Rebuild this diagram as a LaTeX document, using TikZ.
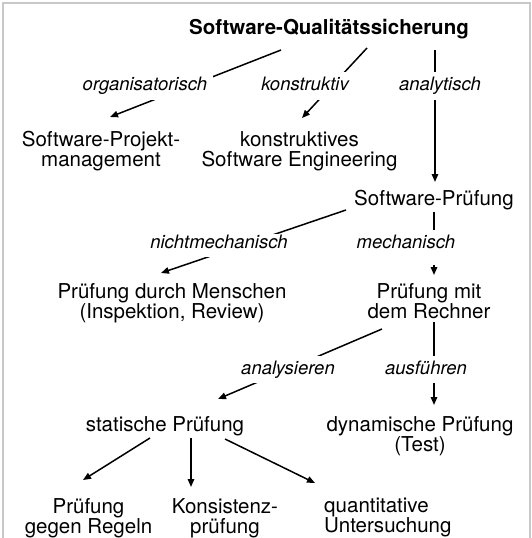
\documentclass[tikz,border=0pt]{standalone}
\usepackage{fontspec}
\setmainfont{TeX Gyre Heros}
\usetikzlibrary{arrows.meta}
\definecolor{FrameGray}{HTML}{C8C8C8}

\begin{document}
\begin{tikzpicture}[x=1pt,y=-1pt,
  every node/.style={inner sep=0pt},
  term/.style={align=center,anchor=north,font=\fontsize{20.5}{20}\selectfont},
  kind/.style={anchor=base,fill=white,inner xsep=6pt,inner ysep=5pt,
    text height=13.5pt,text depth=4pt,font=\fontsize{18.5}{18.5}\selectfont\itshape},
  link/.style={line width=1.5pt,-{Triangle[length=8pt,width=6.5pt]}}]
  \useasboundingbox (0,0) rectangle (532,538);
  \draw[FrameGray,line width=1.5pt] (3,538) -- (3,3) -- (530,3) -- (530,538);

  % Begriffe
  \node[term,font=\fontsize{20.5}{20}\selectfont\bfseries] (qs) at (329,18.7) {Software-Qualitätssicherung};
  \node[term] (spm) at (101,131) {Software-Projekt-\\management};
  \node[term] (kse) at (299.5,131) {konstruktives\\Software Engineering};
  \node[term] (sp) at (434,190) {Software-Prüfung};
  \node[term] (pdm) at (172,283) {Prüfung durch Menschen\\(Inspektion, Review)};
  \node[term] (pmr) at (429,283) {Prüfung mit\\dem Rechner};
  \node[term] (stat) at (165,416) {statische Prüfung};
  \node[term] (dyn) at (420,416.5) {dynamische Prüfung\\(Test)};
  \node[term] (pgr) at (88.5,498) {Prüfung\\gegen Regeln};
  \node[term] (kons) at (225,498) {Konsistenz-\\prüfung};
  \node[term,align=left,anchor=north west] (quant) at (324,498) {quantitative\\Untersuchung};

  % Enden der Verbindungen
  \coordinate (qs-o) at (281,50);   \coordinate (spm-t) at (110,117);
  \coordinate (qs-k) at (367,48);   \coordinate (kse-t) at (302,118);
  \coordinate (qs-a) at (435,50);   \coordinate (sp-t) at (435,182);
  \coordinate (sp-n) at (346,210);  \coordinate (pdm-t) at (161,273);
  \coordinate (sp-m) at (434,212);  \coordinate (pmr-t) at (434,275);
  \coordinate (pmr-a) at (382,329); \coordinate (stat-t) at (218,399);
  \coordinate (pmr-f) at (434,322); \coordinate (dyn-t) at (434,405);
  \coordinate (stat-1) at (150,438); \coordinate (pgr-t) at (83,480);
  \coordinate (stat-2) at (191,438); \coordinate (kons-t) at (191,487);
  \coordinate (stat-3) at (225,439); \coordinate (quant-t) at (315,483);

  \draw[link] (qs-o) -- (spm-t);
  \draw[link] (qs-k) -- (kse-t);
  \draw[link] (qs-a) -- (sp-t);
  \draw[link] (sp-n) -- (pdm-t);
  \draw[link] (sp-m) -- (pmr-t);
  \draw[link] (pmr-a) -- (stat-t);
  \draw[link] (pmr-f) -- (dyn-t);
  \draw[link] (stat-1) -- (pgr-t);
  \draw[link] (stat-2) -- (kons-t);
  \draw[link] (stat-3) -- (quant-t);

  % Beschriftungen
  \node[kind] (org) at (145,90.5) {organisatorisch};
  \node[kind] (kon) at (305,90.5) {konstruktiv};
  \node[kind] (ana) at (440,90.5) {analytisch};
  \node[kind,text height=9pt] (nme) at (219,248.3) {nichtmechanisch};
  \node[kind,text depth=12pt] (mec) at (406,248.3) {mechanisch};
  \node[kind] (asi) at (288,374) {analysieren};
  \node[kind] (afu) at (426,374) {ausführen};
\end{tikzpicture}
\end{document}
